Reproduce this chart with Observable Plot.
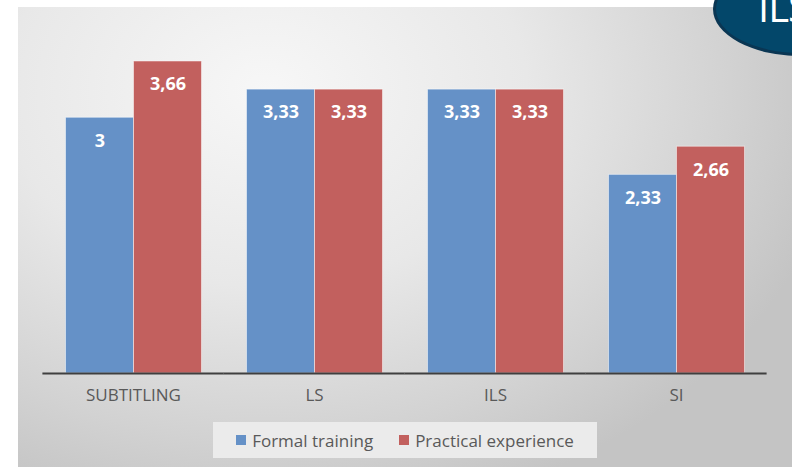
<!DOCTYPE html>
<html>
<head>
<meta charset="utf-8">
<script src="https://cdn.jsdelivr.net/npm/d3@7"></script>
<script src="https://cdn.jsdelivr.net/npm/@observablehq/plot@0.6"></script>
<style>
  html, body { margin: 0; padding: 0; background: #ffffff; }
  #wrap { position: relative; width: 792px; height: 467px; overflow: hidden; background: #ffffff; }
  #panel {
    position: absolute; left: 18px; top: 7px; right: 0; bottom: 0;
    background: radial-gradient(ellipse 75% 95% at 32% 18%, #f7f7f7 0%, #e8e8e8 45%, #d2d2d2 80%, #c4c4c4 100%);
  }
  #chart { position: absolute; left: 0; top: 0; }
  #legend {
    position: absolute; left: 213px; top: 422px; width: 384px; height: 36px;
    background: #ebebeb; display: flex; align-items: center; justify-content: center;
  }
  .lg-swatches { font-family: "Open Sans", sans-serif; font-size: 17px; color: #595959; margin: 0 !important; }
  .lg-swatch { margin-right: 26px !important; }
  .lg-swatch:last-child { margin-right: 0 !important; }
  .lg-swatch > svg { margin-right: 6px !important; }
  #badge {
    position: absolute; left: 713px; top: -38px; width: 176px; height: 94px;
    border-radius: 50%; background: #03476a; border: 3px solid #0a3653; box-sizing: border-box;
  }
  #badge span {
    position: absolute; left: 42px; top: 22px; font-family: "Open Sans", sans-serif;
    font-size: 40px; line-height: 1; color: #ffffff; letter-spacing: -1px;
  }
</style>
</head>
<body>
<div id="wrap">
  <div id="panel"></div>
  <div id="chart"></div>
  <div id="legend"></div>
  <div id="badge"><span>ILS</span></div>
</div>
<script>
// Categories and the two series of scores
const categories = ["SUBTITLING", "LS", "ILS", "SI"];
const series = ["Formal training", "Practical experience"];
const formalTraining = [3, 3.33, 3.33, 2.33];
const practicalExperience = [3.66, 3.33, 3.33, 2.66];
const seriesColors = ["#6591c7", "#c2605e"];

const rows = categories.flatMap((c, i) => [
  {category: c, series: series[0], value: formalTraining[i]},
  {category: c, series: series[1], value: practicalExperience[i]}
]);

const fmt = v => String(v).replace(".", ",");

const chart = Plot.plot({
  width: 792,
  height: 415,
  marginTop: 32,
  marginBottom: 42,
  marginLeft: 42.5,
  marginRight: 25.5,
  style: {background: "transparent"},
  fx: {domain: categories, paddingInner: 0.249, paddingOuter: 0.1245, axis: null, label: null},
  x: {domain: series, padding: 0, axis: null},
  y: {domain: [0, 4], axis: null},
  color: {domain: series, range: seriesColors},
  marks: [
    Plot.barY(rows, {fx: "category", x: "series", y: "value", fill: "series", stroke: "#ffffff", strokeOpacity: 0.5, strokeWidth: 1}),
    Plot.text(rows, {
      fx: "category", x: "series", y: "value", text: d => fmt(d.value),
      dy: 23, fill: "#ffffff", fontWeight: "bold", fontSize: 18, fontFamily: "Open Sans"
    }),
    Plot.ruleY([0], {stroke: "#3f3f3f", strokeWidth: 2, insetLeft: -22.6, insetRight: -22.6}),
    Plot.axisFx({
      anchor: "bottom", tickSize: 0, tickPadding: 15, label: null,
      fontSize: 17, fontFamily: "Open Sans", fill: "#595959"
    })
  ]
});
document.getElementById("chart").appendChild(chart);

const legend = Plot.legend({
  color: {domain: series, range: seriesColors},
  legend: "swatches",
  swatchSize: 10,
  className: "lg"
});
document.getElementById("legend").appendChild(legend);
</script>
</body>
</html>
